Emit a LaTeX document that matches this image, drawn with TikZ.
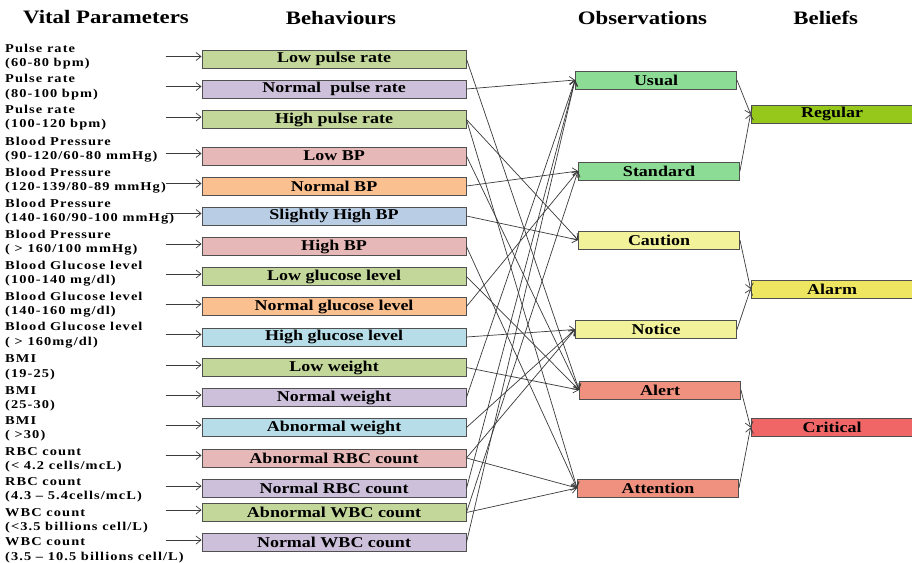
\documentclass[tikz,border=0pt]{standalone}
\usepackage{fontspec}
\usetikzlibrary{arrows.meta}
\newfontfamily\tnr{Liberation Serif}[FakeStretch=1.2]
\newfontfamily\tnrsp{Liberation Serif}[FakeStretch=1.2,LetterSpace=9]
\definecolor{edgecol}{HTML}{505050}
\definecolor{linecol}{HTML}{3A3A3A}
\definecolor{cgreen}{HTML}{C4D79B}
\definecolor{cpurple}{HTML}{CCC0DA}
\definecolor{cpink}{HTML}{E6B9B8}
\definecolor{corange}{HTML}{FAC090}
\definecolor{cblue}{HTML}{B9CDE5}
\definecolor{ccyan}{HTML}{B7DEE8}
\definecolor{ogreen}{HTML}{8CDC96}
\definecolor{oyellow}{HTML}{F2F29A}
\definecolor{ored}{HTML}{F0907E}
\definecolor{bgreen}{HTML}{95C81A}
\definecolor{byellow}{HTML}{EEE660}
\definecolor{bred}{HTML}{F06666}
\newcommand\vparam[4]{%
  \node[vp] (#1a) at (5,#2) {#3};
  \node[vp] (#1b) at (5,#2+14.5) {#4};}
\begin{document}
\begin{tikzpicture}[x=1pt,y=-1pt,
  box/.style={draw=edgecol, line width=0.9pt, minimum height=18pt, inner sep=0pt,
    font=\tnr\bfseries\fontsize{15}{15}\selectfont},
  beh/.style={box, minimum width=264pt},
  obs/.style={box, minimum width=161pt},
  bel/.style={box, minimum width=162pt},
  vp/.style={anchor=base west, inner sep=0pt, font=\tnrsp\bfseries\fontsize{12}{14}\selectfont},
  head/.style={anchor=base, inner sep=0pt, font=\tnr\bfseries\fontsize{19}{19}\selectfont},
  conn/.style={draw=linecol, line width=0.7pt, -{Straight Barb[length=5pt,width=8pt]}}]
\useasboundingbox (0,0) rectangle (912,562);
\fill[white] (0,0) rectangle (912,562);

% headings
\node[head] (h1) at (106,23.3) {Vital Parameters};
\node[head] (h2) at (341,24) {Behaviours};
\node[head] (h3) at (642.5,24) {Observations};
\node[head] (h4) at (825.7,24) {Beliefs};

% vital parameters
\vparam{p1}{52.3}{Pulse rate}{(60-80 bpm)}
\vparam{p2}{82.7}{Pulse rate}{(80-100 bpm)}
\vparam{p3}{113.3}{Pulse rate}{(100-120 bpm)}
\vparam{p4}{145}{Blood Pressure}{(90-120/60-80 mmHg)}
\vparam{p5}{176}{Blood Pressure}{(120-139/80-89 mmHg)}
\vparam{p6}{207.3}{Blood Pressure}{(140-160/90-100 mmHg)}
\vparam{p7}{238.3}{Blood Pressure}{( > 160/100 mmHg)}
\vparam{p8}{269.3}{Blood Glucose level}{(100-140 mg/dl)}
\vparam{p9}{300}{Blood Glucose level}{(140-160 mg/dl)}
\vparam{p10}{330.7}{Blood Glucose level}{( > 160mg/dl)}
\vparam{p11}{362.7}{BMI}{(19-25)}
\vparam{p12}{394}{BMI}{(25-30)}
\vparam{p13}{424}{BMI}{( >30)}
\vparam{p14}{455}{RBC count}{(< 4.2 cells/mcL)}
\vparam{p15}{485}{RBC count}{(4.3 – 5.4cells/mcL)}
\vparam{p16}{516}{WBC count}{(<3.5 billions cell/L)}
\vparam{p17}{545.7}{WBC count}{(3.5 – 10.5 billions cell/L)}

% behaviours
\node[beh, fill=cgreen]  (lpr)  at (334,59)    {Low pulse rate};
\node[beh, fill=cpurple] (npr)  at (334,89)    {Normal~ pulse rate};
\node[beh, fill=cgreen]  (hpr)  at (334,119.5) {High pulse rate};
\node[beh, fill=cpink]   (lbp)  at (334,156)   {Low BP};
\node[beh, fill=corange] (nbp)  at (334,186)   {Normal BP};
\node[beh, fill=cblue]   (shbp) at (334,216)   {Slightly High BP};
\node[beh, fill=cpink]   (hbp)  at (334,246.5) {High BP};
\node[beh, fill=cgreen]  (lgl)  at (334,276.5) {Low glucose level};
\node[beh, fill=corange] (ngl)  at (334,306.5) {Normal glucose level};
\node[beh, fill=ccyan]   (hgl)  at (334,337)   {High glucose level};
\node[beh, fill=cgreen]  (lw)   at (334,367.5) {Low weight};
\node[beh, fill=cpurple] (nw)   at (334,397.5) {Normal weight};
\node[beh, fill=ccyan]   (aw)   at (334,427.5) {Abnormal weight};
\node[beh, fill=cpink]   (arbc) at (334,458)   {Abnormal RBC count};
\node[beh, fill=cpurple] (nrbc) at (334,488.5) {Normal RBC count};
\node[beh, fill=cgreen]  (awbc) at (334,512.5) {Abnormal WBC count};
\node[beh, fill=cpurple] (nwbc) at (334,542.5) {Normal WBC count};

% observations
\node[obs, fill=ogreen]  (usual)     at (656,80)    {Usual};
\node[obs, fill=ogreen]  (standard)  at (659,171)   {Standard};
\node[obs, fill=oyellow] (caution)   at (659,240)   {Caution};
\node[obs, fill=oyellow] (notice)    at (656,329.5) {Notice};
\node[obs, fill=ored]    (alert)     at (660,390)   {Alert};
\node[obs, fill=ored]    (attention) at (658,488)   {Attention};

% beliefs
\node[bel, fill=bgreen]  (regular)  at (832,114)   {Regular};
\node[bel, fill=byellow] (alarm)    at (832,289)   {Alarm};
\node[bel, fill=bred]    (critical) at (832,427.5) {Critical};

% parameter -> behaviour arrows
\foreach \b in {lpr,npr,hpr,lbp,nbp,shbp,hbp,lgl,ngl,hgl,lw,nw,aw,arbc,nrbc,awbc,nwbc}
  \draw[conn] ([xshift=-36pt,yshift=2.5pt]\b.west) -- ([yshift=2.5pt]\b.west);

% behaviour -> observation
\foreach \a/\b in {npr/usual, nw/usual, nrbc/usual, nwbc/usual,
                   nbp/standard, ngl/standard, awbc/standard,
                   hpr/caution, shbp/caution,
                   hgl/notice, aw/notice, arbc/notice,
                   lpr/alert, lbp/alert, lgl/alert, lw/alert,
                   hpr/attention, hbp/attention, arbc/attention, awbc/attention}
  \draw[conn] (\a.east) -- (\b.west);

% observation -> belief
\foreach \a/\b in {usual/regular, standard/regular, caution/alarm, notice/alarm,
                   alert/critical, attention/critical}
  \draw[conn] (\a.east) -- (\b.west);
\end{tikzpicture}
\end{document}
